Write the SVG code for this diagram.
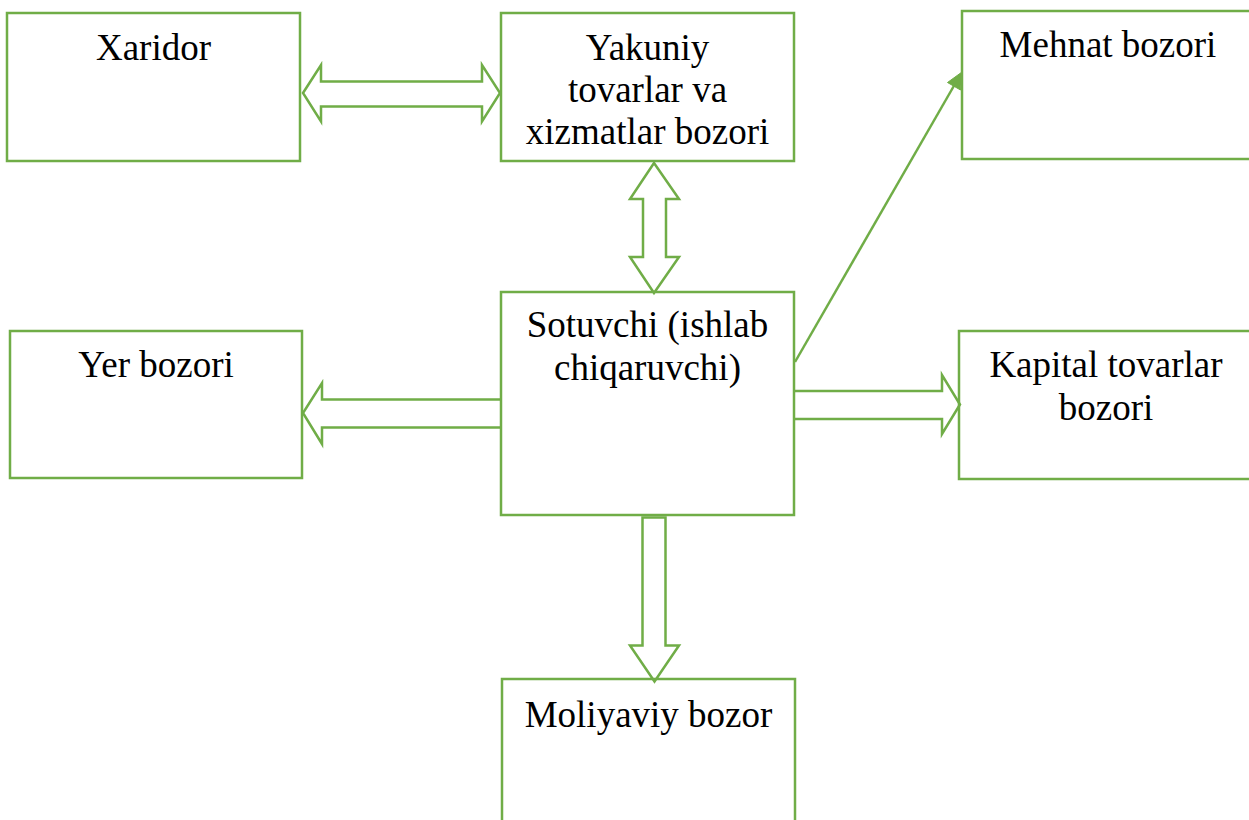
<svg xmlns="http://www.w3.org/2000/svg" width="1249" height="820" viewBox="0 0 1249 820">
<defs>
<style>
.box{fill:none;stroke:#70AD47;stroke-width:2.5}
.arr{fill:#fff;stroke:#70AD47;stroke-width:2.5;stroke-linejoin:miter}
.ln{stroke:#70AD47;stroke-width:2.5;fill:none}
.head{fill:#70AD47;stroke:#70AD47;stroke-width:1}
.t{font-size:37px;fill:#000;text-anchor:middle}
</style>
</defs>
<rect width="1249" height="820" fill="#fff"/>
<g id="connectors">
<path class="arr" d="M303,93 L321,65 L321,81.5 L482,81.5 L482,65 L500,93 L482,121.5 L482,106.5 L321,106.5 L321,121.5 Z"/>
<path class="arr" d="M654,163 L679,199 L666,199 L666,257 L679,257 L654,293 L630,257 L643,257 L643,199 L630,199 Z"/>
<path class="arr" d="M501,399.5 L322,399.5 L322,383 L303,413 L322,444 L322,427.5 L501,427.5"/>
<path class="arr" d="M794,391 L942,391 L942,375 L960,404.5 L942,434 L942,419 L794,419"/>
<path class="arr" d="M642.5,517.5 L665.5,517.5 L665.5,645.5 L679,645.5 L654.5,681.5 L630,645.5 L642.5,645.5 Z"/>
<line class="ln" x1="795" y1="362" x2="955" y2="84"/>
<polygon class="head" points="962,72 960.5,90 947.5,82.5"/>
</g>
<g font-family="'Liberation Serif', 'Times New Roman', serif">
<g id="xaridor"><rect class="box" x="7" y="13" width="293" height="148"/><text class="t" x="153.5" y="60">Xaridor</text></g>
<g id="yakuniy"><rect class="box" x="501" y="13" width="293" height="148"/><text class="t" x="647.5" y="60">Yakuniy</text><text class="t" x="647.5" y="102">tovarlar va</text><text class="t" x="647.5" y="144">xizmatlar bozori</text></g>
<g id="mehnat"><rect class="box" x="962" y="11" width="300" height="148"/><text class="t" x="1108" y="57">Mehnat bozori</text></g>
<g id="yer"><rect class="box" x="10" y="331" width="292" height="147"/><text class="t" x="156" y="377">Yer bozori</text></g>
<g id="sotuvchi"><rect class="box" x="501" y="292" width="293" height="223"/><text class="t" x="647.5" y="337">Sotuvchi (ishlab</text><text class="t" x="647.5" y="380">chiqaruvchi)</text></g>
<g id="kapital"><rect class="box" x="959" y="331" width="293" height="148"/><text class="t" x="1106" y="377">Kapital tovarlar</text><text class="t" x="1106" y="420">bozori</text></g>
<g id="moliyaviy"><rect class="box" x="502" y="679" width="293" height="160"/><text class="t" x="648.5" y="727">Moliyaviy bozor</text></g>
</g>
</svg>
